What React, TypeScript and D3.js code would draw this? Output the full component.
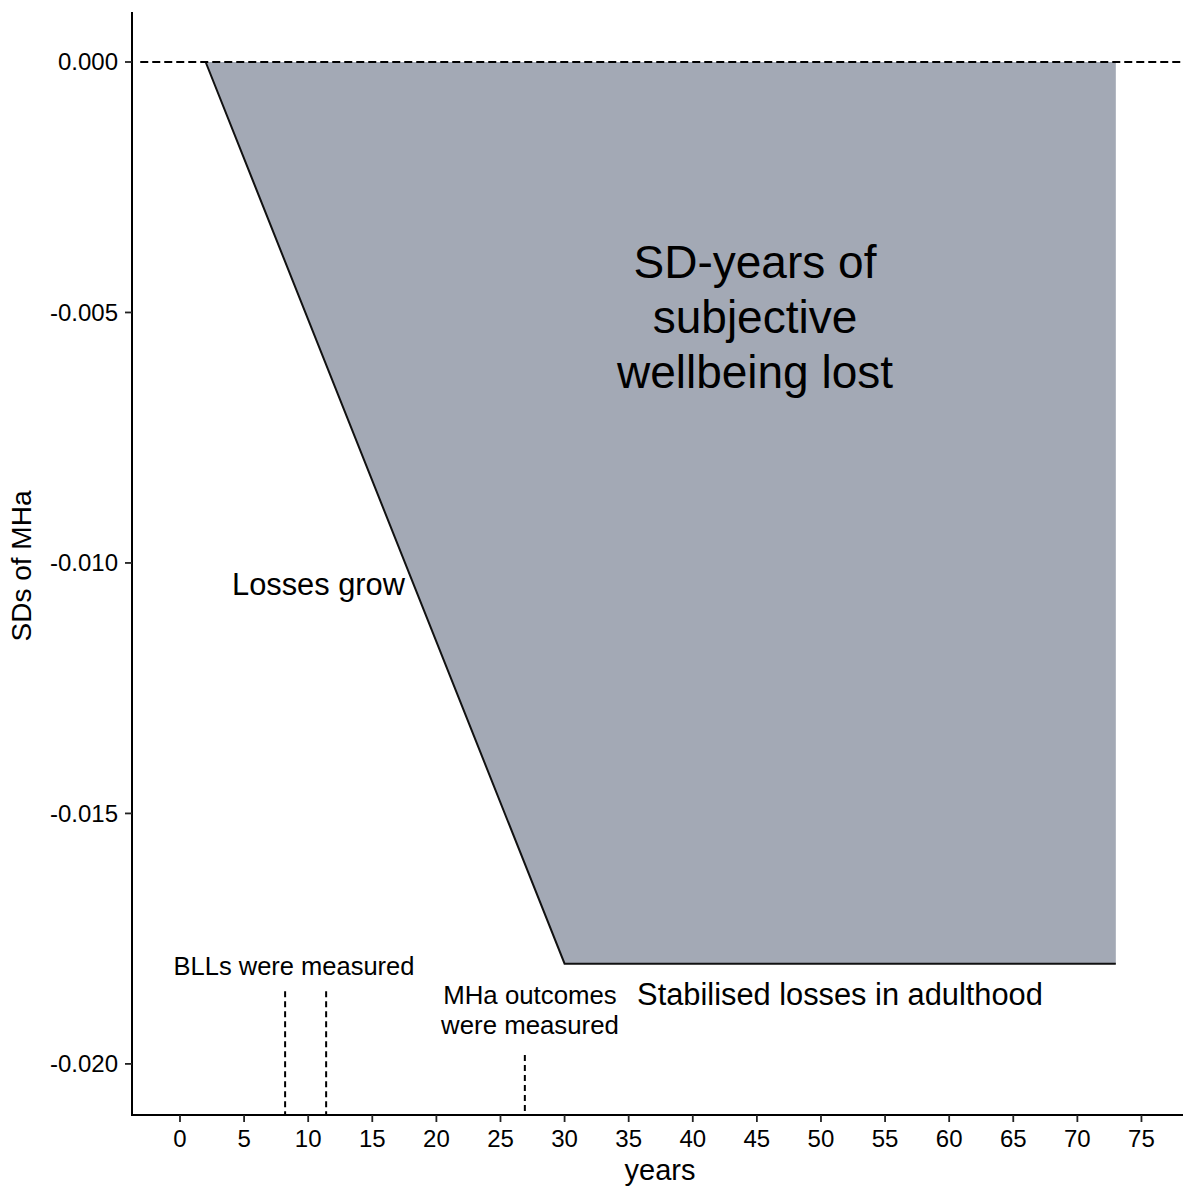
import React from "react";
import * as d3 from "d3";

const W = 1185;
const H = 1187;

// Data
const lossPathX = [2, 30, 73];
const lossPathY = [0, -0.018, -0.018];
const xTicks = [0, 5, 10, 15, 20, 25, 30, 35, 40, 45, 50, 55, 60, 65, 70, 75];
const yTicks = [0, -0.005, -0.01, -0.015, -0.02];
const bllYears = [8.2, 11.4];
const mhaYears = [26.9];
const bllLineTop = -0.01855;
const mhaLineTop = -0.01982;

const FONT = "'Liberation Sans', Arial, Helvetica, sans-serif";

export default function App() {
  const x = d3.scaleLinear().domain([-3.744, 78.24]).range([132, 1183]);
  const y = d3.scaleLinear().domain([-0.02102, 0.000998]).range([1115, 12]);
  const [x0, x1] = x.range();
  const [yb, yt] = y.range();

  const pts: [number, number][] = lossPathX.map((v, i) => [v, lossPathY[i]]);
  const areaPts: [number, number][] = [...pts, [lossPathX[lossPathX.length - 1], 0]];
  const poly = d3
    .line<[number, number]>()
    .x((d) => x(d[0]))
    .y((d) => y(d[1]))
    .curve(d3.curveLinearClosed)(areaPts) as string;
  const line = d3
    .line<[number, number]>()
    .x((d) => x(d[0]))
    .y((d) => y(d[1]))(pts) as string;

  return (
    <svg
      width={W}
      height={H}
      style={{ position: "absolute", left: 0, top: 0, background: "#fff" }}
      fontFamily={FONT}
    >
      <rect x={0} y={0} width={W} height={H} fill="#fff" />
      {/* shaded area */}
      <path d={poly} fill="#a3a9b5" stroke="none" />
      <path d={line} fill="none" stroke="#111" strokeWidth={2} strokeLinejoin="miter" />
      {/* zero line */}
      <line
        x1={x(-3.1)}
        x2={x1}
        y1={y(0)}
        y2={y(0)}
        stroke="#000"
        strokeWidth={1.8}
        strokeDasharray="8,4"
      />
      {/* measurement lines */}
      {bllYears.map((v) => (
        <line
          key={"b" + v}
          x1={x(v)}
          x2={x(v)}
          y1={y(bllLineTop)}
          y2={yb}
          stroke="#000"
          strokeWidth={2}
          strokeDasharray="6,4"
        />
      ))}
      {mhaYears.map((v) => (
        <line
          key={"m" + v}
          x1={x(v)}
          x2={x(v)}
          y1={y(mhaLineTop)}
          y2={yb}
          stroke="#000"
          strokeWidth={2}
          strokeDasharray="6,4"
        />
      ))}
      {/* annotations */}
      <text x={755} y={278} fontSize={46} textAnchor="middle" fill="#000">
        SD-years of
      </text>
      <text x={755} y={333} fontSize={46} textAnchor="middle" fill="#000">
        subjective
      </text>
      <text x={755} y={388} fontSize={46} textAnchor="middle" fill="#000">
        wellbeing lost
      </text>
      <text x={318.5} y={595} fontSize={30.8} textAnchor="middle" fill="#000">
        Losses grow
      </text>
      <text x={840} y={1005} fontSize={30.8} textAnchor="middle" fill="#000">
        Stabilised losses in adulthood
      </text>
      <text x={294} y={975} fontSize={25.5} textAnchor="middle" fill="#000">
        BLLs were measured
      </text>
      <text x={530} y={1004} fontSize={25.8} textAnchor="middle" fill="#000">
        MHa outcomes
      </text>
      <text x={530} y={1034} fontSize={25.8} textAnchor="middle" fill="#000">
        were measured
      </text>
      {/* axes */}
      <line x1={x0} x2={x0} y1={yt} y2={yb + 1} stroke="#000" strokeWidth={2} />
      <line x1={x0 - 1} x2={x1} y1={yb} y2={yb} stroke="#000" strokeWidth={2} />
      {xTicks.map((t) => (
        <g key={"xt" + t}>
          <line x1={x(t)} x2={x(t)} y1={yb} y2={yb + 7} stroke="#222" strokeWidth={1.8} />
          <text x={x(t)} y={1147} fontSize={24} textAnchor="middle" fill="#000">
            {t}
          </text>
        </g>
      ))}
      {yTicks.map((t) => (
        <g key={"yt" + t}>
          <line x1={x0 - 7} x2={x0} y1={y(t)} y2={y(t)} stroke="#222" strokeWidth={1.8} />
          <text
            x={118}
            y={y(t)}
            dy="0.35em"
            fontSize={24}
            textAnchor="end"
            fill="#000"
          >
            {t.toFixed(3)}
          </text>
        </g>
      ))}
      <text x={660} y={1180} fontSize={29} textAnchor="middle" fill="#000">
        years
      </text>
      <text
        transform={`translate(31,566) rotate(-90)`}
        fontSize={28}
        textAnchor="middle"
        fill="#000"
      >
        SDs of MHa
      </text>
    </svg>
  );
}
